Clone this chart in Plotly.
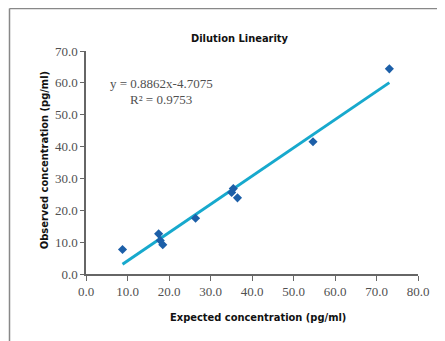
import plotly.graph_objects as go

# Data
expected = [8.8, 17.5, 17.9, 18.5, 26.4, 35.1, 35.5, 36.5, 54.7, 73.1]
observed = [7.7, 12.6, 10.5, 9.2, 17.5, 25.6, 26.8, 23.9, 41.5, 64.4]
slope = 0.8862
intercept = -4.7075
r_squared = 0.9753
x_ticks = [0, 10, 20, 30, 40, 50, 60, 70, 80]
y_ticks = [0, 10, 20, 30, 40, 50, 60, 70]

x_fit = [min(expected), max(expected)]
y_fit = [slope * v + intercept for v in x_fit]

title_font = dict(family="DejaVu Sans Condensed", size=11, color="#111111")
tick_font = dict(family="Liberation Serif", size=13, color="#505050")

# page body has an 8px margin; plot area in window: x 86..418, y 51..273.7
OFF = 8
PL, PR, PT, PB = 86, 418, 51, 273.7
PW, PH = PR - PL, PB - PT


def px(x):
    return (x - PL) / PW


def py(y):
    return (PB - y) / PH


fig = go.Figure()
fig.add_trace(go.Scatter(x=x_fit, y=y_fit, mode="lines",
                         line=dict(color="#17a9cd", width=3), showlegend=False,
                         hoverinfo="skip"))
fig.add_trace(go.Scatter(x=expected, y=observed, mode="markers",
                         marker=dict(symbol="diamond", size=7, color="#1c5fa8"),
                         showlegend=False))

W, H = 445 - OFF, 341 - OFF
fig.update_layout(
    width=W, height=H,
    margin=dict(l=PL - OFF, r=445 - PR, t=PT - OFF, b=341 - PB, pad=0),
    paper_bgcolor="white", plot_bgcolor="white",
    xaxis=dict(range=[0, 80], tickvals=x_ticks,
               ticktext=[f"{v:.1f}" for v in x_ticks],
               showgrid=False, zeroline=False, showline=True,
               linecolor="#666666", linewidth=1.5, ticks="outside",
               ticklen=5, tickcolor="#666666", tickfont=tick_font),
    yaxis=dict(range=[0, 70], tickvals=y_ticks,
               ticktext=[f"{v:.1f}" for v in y_ticks],
               showgrid=False, zeroline=False, showline=True,
               linecolor="#666666", linewidth=1.5, ticks="outside",
               ticklen=4, tickcolor="#666666", tickfont=tick_font),
    shapes=[
        dict(type="line", xref="paper", yref="paper", x0=px(9.5), x1=px(460),
             y0=py(8.5), y1=py(8.5), line=dict(color="#888888", width=1.5)),
        dict(type="line", xref="paper", yref="paper", x0=px(9.5), x1=px(9.5),
             y0=py(8.5), y1=py(360), line=dict(color="#888888", width=1.5)),
    ],
    annotations=[
        dict(text="<b>Dilution Linearity</b>", xref="paper", yref="paper",
             x=px(240), y=py(39), showarrow=False,
             xanchor="center", yanchor="middle", font=title_font),
        dict(text="<b>Expected concentration (pg/ml)</b>", xref="paper", yref="paper",
             x=px(258), y=py(317), showarrow=False,
             xanchor="center", yanchor="middle", font=title_font),
        dict(text="<b>Observed concentration (pg/ml)</b>", xref="paper", yref="paper",
             x=px(44), y=py(160), showarrow=False,
             xanchor="center", yanchor="middle", textangle=-90, font=title_font),
        dict(text=f"y = {slope}x{intercept}", xref="paper", yref="paper",
             x=px(161), y=py(83), showarrow=False,
             xanchor="center", yanchor="middle", font=tick_font),
        dict(text=f"R² = {r_squared}", xref="paper", yref="paper",
             x=px(161), y=py(99), showarrow=False,
             xanchor="center", yanchor="middle", font=tick_font),
    ],
)

fig.write_html("out.html")
